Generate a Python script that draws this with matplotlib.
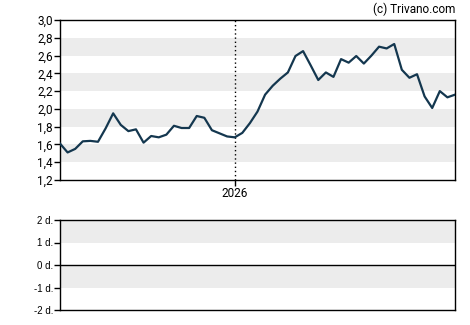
import matplotlib
matplotlib.use("Agg")
import matplotlib.pyplot as plt
import numpy as np

plt.rcParams['font.family'] = ['Roboto', 'DejaVu Sans']

# weekly prices, roughly one year
prices = [1.61, 1.51, 1.55, 1.635, 1.64, 1.63, 1.78, 1.95, 1.82, 1.75, 1.77, 1.62,
          1.695, 1.68, 1.71, 1.81, 1.785, 1.785, 1.92, 1.90, 1.76, 1.725, 1.69, 1.68,
          1.73, 1.84, 1.97, 2.16, 2.26, 2.34, 2.41, 2.595, 2.65, 2.49, 2.325, 2.41,
          2.36, 2.56, 2.52, 2.595, 2.51, 2.60, 2.70, 2.68, 2.73, 2.44, 2.35, 2.39,
          2.14, 2.01, 2.20, 2.13, 2.16]
year_idx = 23
year_label = "2026"
price_ticks = [1.2, 1.4, 1.6, 1.8, 2.0, 2.2, 2.4, 2.6, 2.8, 3.0]
lower_ticks = [-2, -1, 0, 1, 2]
lower_labels = ["-2 d.", "-1 d.", "0 d.", "1 d.", "2 d."]

line_col = "#14374f"
band_col = "#ececec"

fig = plt.figure(figsize=(4.7, 3.25), dpi=100)
ax = fig.add_axes([60/470, 1 - 180/325, 395/470, 160/325])
ax2 = fig.add_axes([60/470, 1 - 310/325, 395/470, 90/325])

x = np.arange(len(prices))
ax.set_xlim(0, len(prices) - 1)
ax.set_ylim(1.2, 3.0)
for lo in [1.4, 1.8, 2.2, 2.6]:
    ax.axhspan(lo, lo + 0.2, color=band_col, lw=0, zorder=0)
ax.axvline(year_idx, color="black", ls=(0, (1, 2)), lw=1, zorder=1)
ax.plot(x, prices, color=line_col, lw=1.6, zorder=3)
ax.set_yticks(price_ticks)
ax.set_yticklabels([f"{v:.1f}".replace(".", ",") for v in price_ticks], fontsize=8.5)
ax.set_xticks([year_idx])
ax.set_xticklabels([year_label], fontsize=8.5)
ax.tick_params(length=4, width=1, pad=1)

ax2.set_xlim(0, len(prices) - 1)
ax2.set_ylim(-2, 2)
for lo in [1, -1]:
    ax2.axhspan(lo, lo + 1, color=band_col, lw=0, zorder=0)
ax2.axhline(0, color="black", lw=1)
ax2.set_yticks(lower_ticks)
ax2.set_yticklabels(lower_labels, fontsize=7, family=['Liberation Sans', 'DejaVu Sans'])
ax2.set_xticks([])
ax2.tick_params(length=4, width=1, pad=1)

for a in (ax, ax2):
    for s in a.spines.values():
        s.set_linewidth(1)

fig.text(455/470, 1 - 9/325, "(c) Trivano.com", ha="right", va="center", fontsize=8.5)

fig.savefig("out.png", dpi=100)
